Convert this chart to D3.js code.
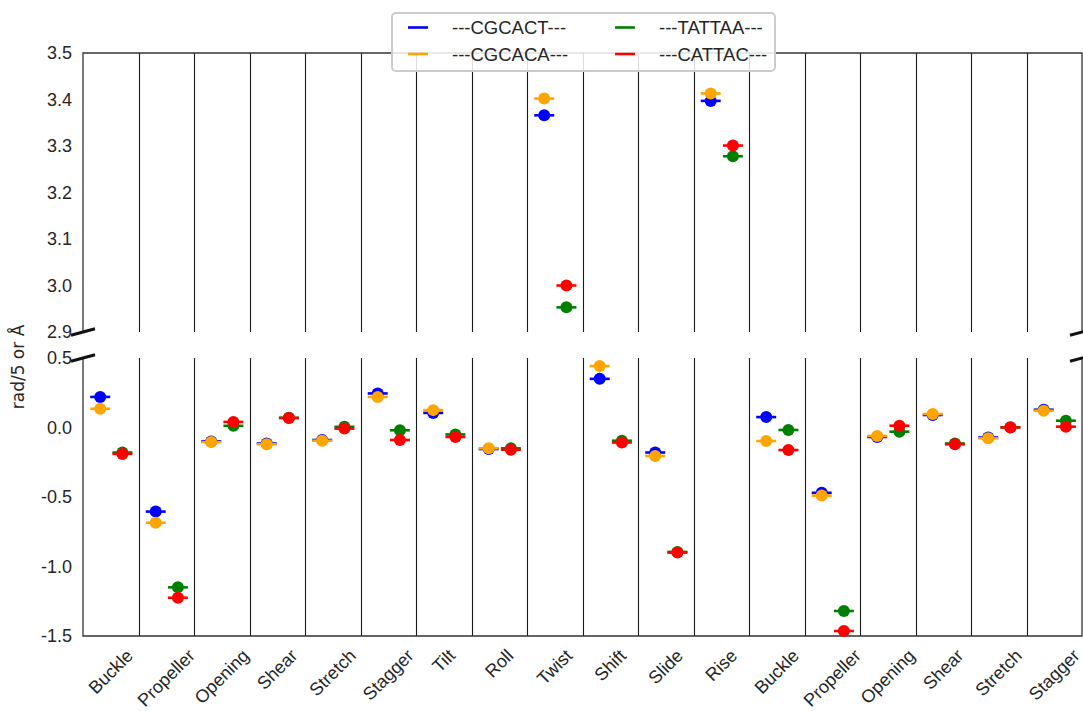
<!DOCTYPE html>
<html>
<head>
<meta charset="utf-8">
<script src="https://cdn.jsdelivr.net/npm/d3@7"></script>
<style>
  html, body { margin: 0; padding: 0; background: #fff; }
  svg { display: block; }
</style>
</head>
<body>
<svg id="chart" width="1083" height="711"></svg>
<script>
// ---- data ----
const categories = ["Buckle","Propeller","Opening","Shear","Stretch","Stagger","Tilt","Roll","Twist","Shift","Slide","Rise","Buckle","Propeller","Opening","Shear","Stretch","Stagger"];
const seriesNames = ["---CGCACT---","---CGCACA---","---TATTAA---","---CATTAC---"];
const seriesColors = ["#0000ff","#ffa500","#008000","#ff0000"];
const valuesCGCACT = [0.22,-0.605,-0.10,-0.115,-0.09,0.245,0.105,-0.155,3.366,0.35,-0.18,3.397,0.075,-0.47,-0.068,0.09,-0.072,0.128];
const valuesCGCACA = [0.135,-0.685,-0.105,-0.12,-0.095,0.22,0.125,-0.15,3.402,0.442,-0.205,3.413,-0.097,-0.49,-0.061,0.097,-0.078,0.121];
const valuesTATTAA = [-0.18,-1.15,0.012,0.07,0.005,-0.02,-0.05,-0.15,2.953,-0.095,-0.895,3.278,-0.018,-1.32,-0.03,-0.115,0.002,0.049];
const valuesCATTAC = [-0.19,-1.225,0.04,0.068,-0.008,-0.09,-0.068,-0.16,3.0,-0.108,-0.90,3.301,-0.162,-1.464,0.013,-0.121,0.0,0.006];
const topTicks = [2.9,3.0,3.1,3.2,3.3,3.4,3.5];
const bottomTicks = [-1.5,-1.0,-0.5,0.0,0.5];
const topDomain = [2.9,3.5];
const bottomDomain = [-1.5,0.5];
const yLabel = "rad/5 or Å";

const allSeries = [valuesCGCACT, valuesCGCACA, valuesTATTAA, valuesCATTAC];
// position of each series inside its category band (fraction of band)
const seriesOffset = [0.31, 0.31, 0.71, 0.71];

// ---- layout ----
const svg = d3.select("#chart");
const L = 83, R = 1082;
const topY0 = 53, topY1 = 332;
const botY0 = 358, botY1 = 636;
const textColor = "#262626";
const tickFont = "Liberation Sans, Arial, sans-serif";

const x = d3.scaleLinear().domain([0, categories.length]).range([L, R]);
const yTop = d3.scaleLinear().domain(topDomain).range([topY1, topY0]);
const yBot = d3.scaleLinear().domain(bottomDomain).range([botY1, botY0]);

// separators (vertical lines between categories)
const bounds = d3.range(1, categories.length);
function drawPanel(y0, y1) {
  svg.append("g").selectAll("line").data(bounds).join("line")
    .attr("x1", d => Math.round(x(d)) + 0.5).attr("x2", d => Math.round(x(d)) + 0.5)
    .attr("y1", y0).attr("y2", y1)
    .attr("stroke", "#1a1a1a").attr("stroke-width", 1.1);
}
drawPanel(topY0, topY1);
drawPanel(botY0, botY1);

// spines
const sp = svg.append("g").attr("stroke", "#333").attr("stroke-width", 1.3).attr("fill", "none");
sp.append("path").attr("d", `M${L},${topY1}V${topY0}H${R}V${topY1}`);
sp.append("path").attr("d", `M${L},${botY0}V${botY1}H${R}V${botY0}`);

// y axes (labels only)
const fmt = d => d3.format(".1f")(d).replace("\u2212", "-");
function yAxis(scale, ticks) {
  const g = svg.append("g").attr("transform", `translate(${L},0)`)
    .call(d3.axisLeft(scale).tickValues(ticks).tickFormat(fmt).tickSize(0).tickPadding(11));
  g.select(".domain").remove();
  g.selectAll("text").attr("font-family", tickFont).attr("font-size", 18).attr("fill", textColor);
}
yAxis(yTop, topTicks);
yAxis(yBot, bottomTicks);

// break marks
const bm = svg.append("g").attr("stroke", "#111").attr("stroke-width", 3).attr("stroke-linecap", "butt");
[[L, topY1], [L, botY0], [R, topY1], [R, botY0]].forEach(([cx, cy]) => {
  bm.append("line").attr("x1", cx - 12).attr("y1", cy + 3.2).attr("x2", cx + 12).attr("y2", cy - 3.2);
});

// points
allSeries.forEach((vals, si) => {
  const g = svg.append("g");
  vals.forEach((v, i) => {
    const yy = v > 1.5 ? yTop(v) : yBot(v);
    const xx = x(i + seriesOffset[si]);
    g.append("line").attr("x1", xx - 10).attr("x2", xx + 10).attr("y1", yy).attr("y2", yy)
      .attr("stroke", seriesColors[si]).attr("stroke-width", 2.6);
    g.append("circle").attr("cx", xx).attr("cy", yy).attr("r", 6).attr("fill", seriesColors[si]);
  });
});

// x tick labels (rotated 45, bbox centered on category center)
const xl = svg.append("g");
categories.forEach((c, i) => {
  const t = xl.append("text").text(c)
    .attr("font-family", tickFont).attr("font-size", 18).attr("fill", textColor)
    .attr("text-anchor", "middle").attr("dominant-baseline", "central");
  const w = t.node().getComputedTextLength();
  const h = 13;
  const cx = x(i + 0.5);
  const cy = 648 + (w + h) * Math.SQRT1_2 / 2;
  t.attr("transform", `translate(${cx},${cy}) rotate(-45)`);
});

// y label
svg.append("text").text(yLabel)
  .attr("font-family", "DejaVu Sans, sans-serif").attr("font-size", 17).attr("fill", textColor)
  .attr("text-anchor", "middle")
  .attr("transform", `translate(24,367) rotate(-90)`);

// legend
const lg = svg.append("g");
lg.append("rect").attr("x", 392).attr("y", 13).attr("width", 383).attr("height", 58)
  .attr("rx", 4).attr("fill", "#fff").attr("fill-opacity", 0.85)
  .attr("stroke", "#cccccc").attr("stroke-width", 2);
const legendPos = [[408, 27.5], [408, 54], [615, 27.5], [615, 54]];
seriesNames.forEach((n, si) => {
  const [lx, ly] = legendPos[si];
  lg.append("line").attr("x1", lx).attr("x2", lx + 20).attr("y1", ly).attr("y2", ly)
    .attr("stroke", seriesColors[si]).attr("stroke-width", 2.6);
  lg.append("text").text(n).attr("x", lx + 44).attr("y", ly)
    .attr("dominant-baseline", "central")
    .attr("font-family", tickFont).attr("font-size", 18.5).attr("fill", textColor);
});
</script>
</body>
</html>
